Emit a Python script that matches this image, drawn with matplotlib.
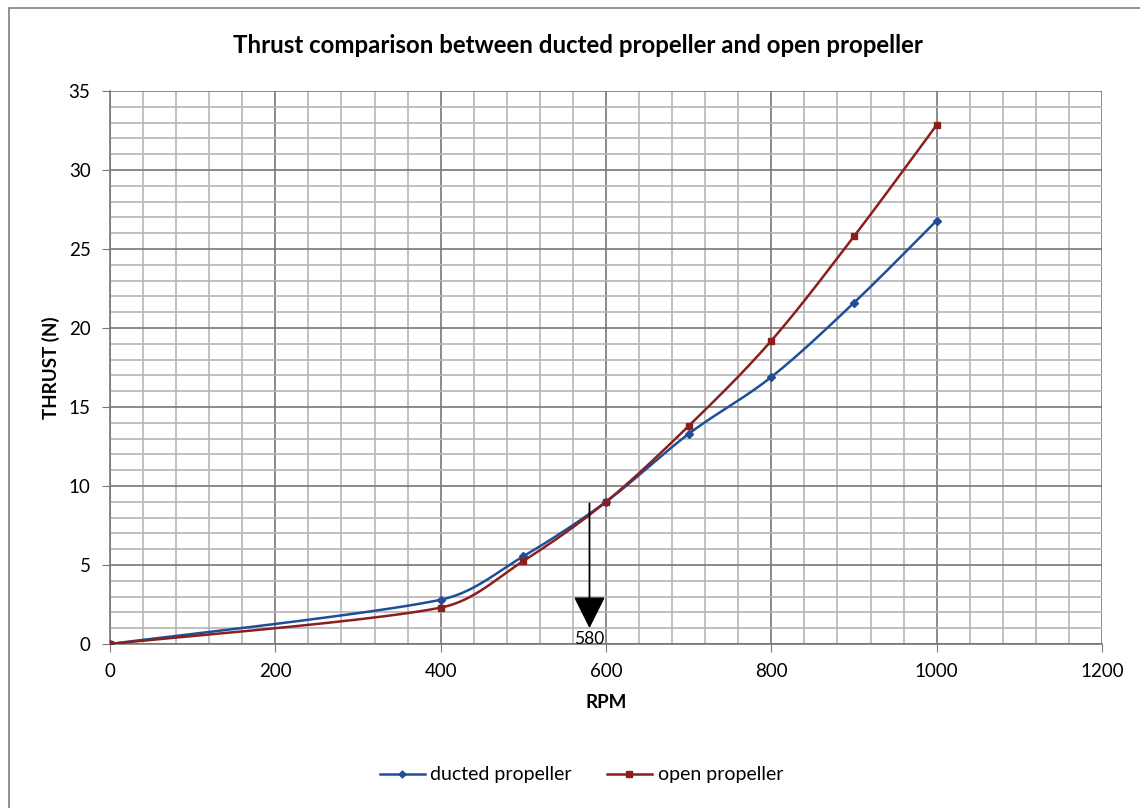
import numpy as np
import matplotlib
matplotlib.use("Agg")
import matplotlib.pyplot as plt
from matplotlib.patches import Rectangle

plt.rcParams['font.family'] = ['Lato', 'DejaVu Sans']

rpm = [0, 400, 500, 600, 700, 800, 900, 1000]
ducted = [0, 2.8, 5.55, 9.0, 13.3, 16.9, 21.6, 26.8]
open_prop = [0, 2.3, 5.25, 9.0, 13.8, 19.2, 25.8, 32.85]
marker_rpm = 580
title = "Thrust comparison between ducted propeller and open propeller"


def smooth(x, y, n=40, tension=0.5):
    x = np.asarray(x, float)
    y = np.asarray(y, float)
    px, py = [], []
    for i in range(len(x) - 1):
        x0, y0 = (x[i - 1], y[i - 1]) if i > 0 else (x[i], y[i])
        x3, y3 = (x[i + 2], y[i + 2]) if i + 2 < len(x) else (x[i + 1], y[i + 1])
        x1, y1, x2, y2 = x[i], y[i], x[i + 1], y[i + 1]
        seg = x2 - x1
        d1x, d1y = (x2 - x0) * tension / 3, (y2 - y0) * tension / 3
        d2x, d2y = (x3 - x1) * tension / 3, (y3 - y1) * tension / 3
        lim = seg * 0.4
        if d1x > lim:
            f = lim / d1x
            d1x, d1y = d1x * f, d1y * f
        if d2x > lim:
            f = lim / d2x
            d2x, d2y = d2x * f, d2y * f
        c1x, c1y = x1 + d1x, y1 + d1y
        c2x, c2y = x2 - d2x, y2 - d2y
        t = np.linspace(0, 1, n)
        bx = (1 - t) ** 3 * x1 + 3 * (1 - t) ** 2 * t * c1x + 3 * (1 - t) * t ** 2 * c2x + t ** 3 * x2
        by = (1 - t) ** 3 * y1 + 3 * (1 - t) ** 2 * t * c1y + 3 * (1 - t) * t ** 2 * c2y + t ** 3 * y2
        px.extend(bx)
        py.extend(by)
    return np.array(px), np.array(py)


fig = plt.figure(figsize=(11.4, 8.08), dpi=100)
fig.patches.append(Rectangle((0.008, -0.01), 1.01, 1.0, transform=fig.transFigure,
                             fill=False, edgecolor='#7f7f7f', linewidth=1.2))
ax = fig.add_axes([0.0965, 0.203, 0.8702, 0.6844])

blue = '#1F4E99'
red = '#8B1E1E'

sx, sy = smooth(rpm, ducted)
ax.plot(sx, sy, color=blue, lw=1.8, zorder=3)
ax.plot(rpm, ducted, linestyle='none', marker='D', ms=4, color=blue, zorder=4)
sx, sy = smooth(rpm, open_prop)
ax.plot(sx, sy, color=red, lw=1.8, zorder=3)
ax.plot(rpm, open_prop, linestyle='none', marker='s', ms=5, color=red, zorder=4)

# legend proxies
ax.plot([], [], color=blue, lw=1.8, marker='D', ms=3.5, label='ducted propeller')
ax.plot([], [], color=red, lw=1.8, marker='s', ms=4, label='open propeller')

ax.set_xlim(0, 1200)
ax.set_ylim(0, 35)
ax.set_xticks(np.arange(0, 1201, 200))
ax.set_yticks(np.arange(0, 36, 5))
ax.set_xticks(np.arange(0, 1201, 40), minor=True)
ax.set_yticks(np.arange(0, 36, 1), minor=True)
ax.grid(which='major', color='#777777', lw=1.2, zorder=0)
ax.grid(which='minor', color='#b5b5b5', lw=1.2, zorder=0)
ax.set_axisbelow(True)
for s in ['top', 'right']:
    ax.spines[s].set_visible(False)
for s in ['left', 'bottom']:
    ax.spines[s].set_color('#777777')
    ax.spines[s].set_linewidth(1.2)
ax.tick_params(which='major', length=6, color='#777777', labelsize=13.5, pad=8)
ax.tick_params(which='minor', length=0)

# arrow at 580 rpm
ax.annotate('', xy=(marker_rpm, 1.0), xytext=(marker_rpm, 8.9),
            arrowprops=dict(arrowstyle='-|>,head_width=0.5,head_length=1.0',
                            mutation_scale=20,
                            color='black', lw=1.3, shrinkA=0, shrinkB=0), zorder=5)
ax.text(marker_rpm, 0.3, str(marker_rpm), ha='center', va='center', fontsize=12.5, zorder=5)

ax.set_xlabel('RPM', fontsize=13.5, fontweight='bold', labelpad=10)
ax.set_ylabel('THRUST (N)', fontsize=13.5, fontweight='bold', labelpad=6)
fig.text(0.507, 0.944, title, ha='center', va='center', fontsize=17.3, fontweight='bold')

fig.legend(loc='center', bbox_to_anchor=(0.51, 0.041), ncol=2, frameon=False,
           fontsize=14, handlelength=2.3, columnspacing=1.8, handletextpad=0.3)

fig.savefig('out.png', dpi=100)
